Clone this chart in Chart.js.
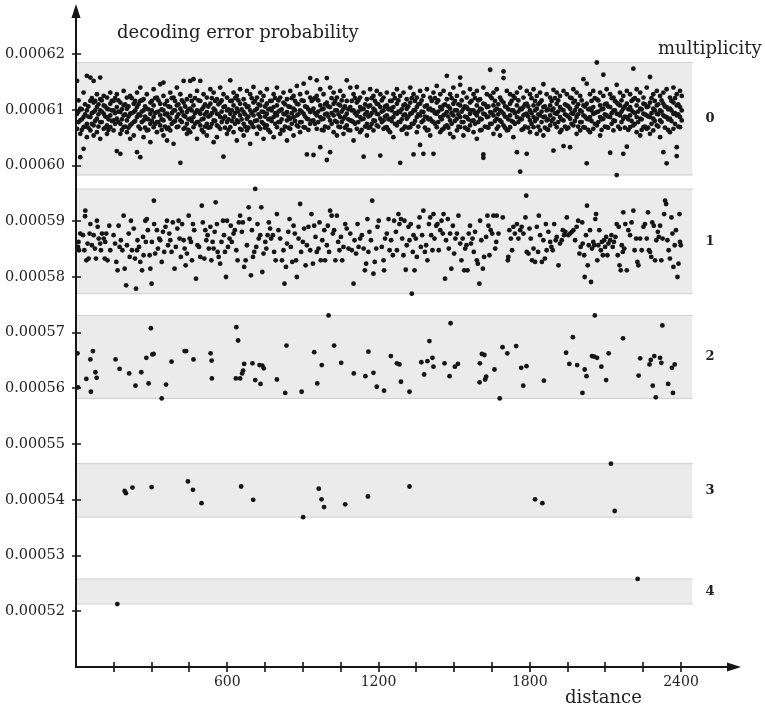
<!DOCTYPE html>
<html>
<head>
<meta charset="utf-8">
<script src="https://cdn.jsdelivr.net/npm/chart.js@4.4.0/dist/chart.umd.min.js"></script>
<style>
  body { margin: 0; background: #fff; }
  canvas { display: block; }
</style>
</head>
<body>
<canvas id="chart" width="765" height="708"></canvas>
<script>
// [distance, decoding error probability] for each multiplicity

const mult0 = [
  [4,6.093e-4],[4,6.066e-4],[4,6.152e-4],[17,6.081e-4],[17,6.102e-4],[17,6.057e-4],[17,6.015e-4],
  [30,6.087e-4],[30,6.069e-4],[30,6.131e-4],[30,6.030e-4],[43,6.161e-4],[43,6.099e-4],[43,6.075e-4],[43,6.051e-4],
  [57,6.158e-4],[57,6.116e-4],[57,6.087e-4],[57,6.063e-4],[70,6.152e-4],[70,6.113e-4],[70,6.096e-4],[70,6.072e-4],[70,6.054e-4],
  [83,6.128e-4],[83,6.105e-4],[83,6.084e-4],[83,6.060e-4],[96,6.158e-4],[96,6.119e-4],[96,6.099e-4],[96,6.078e-4],[96,6.048e-4],
  [110,6.125e-4],[110,6.108e-4],[110,6.093e-4],[110,6.066e-4],[123,6.122e-4],[123,6.102e-4],[123,6.087e-4],[123,6.072e-4],[123,6.057e-4],
  [136,6.131e-4],[136,6.111e-4],[136,6.090e-4],[136,6.069e-4],[149,6.116e-4],[149,6.099e-4],[149,6.081e-4],[149,6.063e-4],
  [162,6.128e-4],[162,6.105e-4],[162,6.084e-4],[162,6.026e-4],[176,6.113e-4],[176,6.096e-4],[176,6.075e-4],[176,6.057e-4],[176,6.021e-4],
  [189,6.134e-4],[189,6.108e-4],[189,6.090e-4],[189,6.069e-4],[202,6.122e-4],[202,6.102e-4],[202,6.081e-4],[202,6.060e-4],
  [215,6.125e-4],[215,6.093e-4],[215,6.072e-4],[215,6.048e-4],[229,6.111e-4],[229,6.096e-4],[229,6.078e-4],[229,6.054e-4],
  [242,6.131e-4],[242,6.105e-4],[242,6.087e-4],[242,6.024e-4],[255,6.140e-4],[255,6.116e-4],[255,6.090e-4],[255,6.066e-4],[255,6.015e-4],
  [268,6.119e-4],[268,6.099e-4],[268,6.081e-4],[268,6.051e-4],[281,6.128e-4],[281,6.102e-4],[281,6.084e-4],[281,6.063e-4],
  [295,6.113e-4],[295,6.093e-4],[295,6.075e-4],[295,6.042e-4],[308,6.137e-4],[308,6.108e-4],[308,6.087e-4],[308,6.069e-4],
  [321,6.122e-4],[321,6.096e-4],[321,6.078e-4],[321,6.060e-4],[334,6.146e-4],[334,6.111e-4],[334,6.090e-4],[334,6.072e-4],
  [347,6.149e-4],[347,6.125e-4],[347,6.099e-4],[347,6.081e-4],[347,6.054e-4],[361,6.116e-4],[361,6.093e-4],[361,6.066e-4],[361,6.045e-4],
  [374,6.131e-4],[374,6.105e-4],[374,6.084e-4],[374,6.063e-4],[387,6.122e-4],[387,6.099e-4],[387,6.078e-4],[387,6.039e-4],
  [400,6.140e-4],[400,6.108e-4],[400,6.087e-4],[400,6.069e-4],[414,6.128e-4],[414,6.102e-4],[414,6.081e-4],[414,6.005e-4],
  [427,6.152e-4],[427,6.113e-4],[427,6.090e-4],[427,6.066e-4],[440,6.119e-4],[440,6.096e-4],[440,6.075e-4],[440,6.057e-4],
  [453,6.152e-4],[453,6.125e-4],[453,6.102e-4],[453,6.084e-4],[453,6.060e-4],[466,6.155e-4],[466,6.108e-4],[466,6.087e-4],[466,6.069e-4],
  [480,6.134e-4],[480,6.099e-4],[480,6.078e-4],[480,6.048e-4],[493,6.152e-4],[493,6.116e-4],[493,6.093e-4],[493,6.072e-4],
  [506,6.128e-4],[506,6.105e-4],[506,6.084e-4],[506,6.060e-4],[519,6.122e-4],[519,6.096e-4],[519,6.075e-4],[519,6.054e-4],
  [533,6.137e-4],[533,6.111e-4],[533,6.090e-4],[533,6.069e-4],[546,6.131e-4],[546,6.102e-4],[546,6.081e-4],[546,6.042e-4],
  [559,6.119e-4],[559,6.093e-4],[559,6.072e-4],[559,6.051e-4],[572,6.140e-4],[572,6.113e-4],[572,6.087e-4],[572,6.066e-4],
  [585,6.128e-4],[585,6.105e-4],[585,6.084e-4],[585,6.016e-4],[599,6.122e-4],[599,6.099e-4],[599,6.078e-4],[599,6.057e-4],
  [612,6.153e-4],[612,6.116e-4],[612,6.093e-4],[612,6.069e-4],[625,6.131e-4],[625,6.108e-4],[625,6.087e-4],[625,6.060e-4],
  [638,6.125e-4],[638,6.102e-4],[638,6.081e-4],[638,6.045e-4],[651,6.137e-4],[651,6.111e-4],[651,6.090e-4],[651,6.066e-4],
  [665,6.119e-4],[665,6.096e-4],[665,6.075e-4],[665,6.054e-4],[678,6.134e-4],[678,6.105e-4],[678,6.084e-4],[678,6.063e-4],
  [691,6.128e-4],[691,6.099e-4],[691,6.078e-4],[691,6.039e-4],[704,6.141e-4],[704,6.113e-4],[704,6.090e-4],[704,6.069e-4],
  [718,6.122e-4],[718,6.102e-4],[718,6.081e-4],[718,6.057e-4],[731,6.131e-4],[731,6.108e-4],[731,6.087e-4],[731,6.066e-4],
  [744,6.125e-4],[744,6.096e-4],[744,6.075e-4],[744,6.048e-4],[757,6.137e-4],[757,6.111e-4],[757,6.093e-4],[757,6.072e-4],
  [770,6.116e-4],[770,6.102e-4],[770,6.084e-4],[770,6.060e-4],[784,6.128e-4],[784,6.105e-4],[784,6.087e-4],[784,6.051e-4],
  [797,6.140e-4],[797,6.108e-4],[797,6.090e-4],[797,6.069e-4],[810,6.122e-4],[810,6.099e-4],[810,6.078e-4],[810,6.057e-4],
  [823,6.131e-4],[823,6.113e-4],[823,6.093e-4],[823,6.063e-4],[837,6.119e-4],[837,6.096e-4],[837,6.081e-4],[837,6.045e-4],
  [850,6.134e-4],[850,6.105e-4],[850,6.084e-4],[850,6.066e-4],[863,6.125e-4],[863,6.102e-4],[863,6.087e-4],[863,6.054e-4],
  [876,6.143e-4],[876,6.111e-4],[876,6.090e-4],[876,6.072e-4],[889,6.128e-4],[889,6.099e-4],[889,6.078e-4],[889,6.060e-4],
  [903,6.147e-4],[903,6.116e-4],[903,6.093e-4],[903,6.069e-4],[916,6.131e-4],[916,6.105e-4],[916,6.084e-4],[916,6.020e-4],
  [929,6.157e-4],[929,6.122e-4],[929,6.096e-4],[929,6.075e-4],[942,6.119e-4],[942,6.102e-4],[942,6.081e-4],[942,6.019e-4],
  [955,6.153e-4],[955,6.125e-4],[955,6.090e-4],[955,6.066e-4],[969,6.137e-4],[969,6.108e-4],[969,6.087e-4],[969,6.033e-4],
  [982,6.128e-4],[982,6.102e-4],[982,6.084e-4],[982,6.063e-4],[995,6.157e-4],[995,6.113e-4],[995,6.093e-4],[995,6.010e-4],
  [1008,6.140e-4],[1008,6.105e-4],[1008,6.081e-4],[1008,6.024e-4],[1022,6.131e-4],[1022,6.111e-4],[1022,6.090e-4],[1022,6.060e-4],
  [1035,6.122e-4],[1035,6.099e-4],[1035,6.078e-4],[1035,6.054e-4],[1048,6.134e-4],[1048,6.108e-4],[1048,6.087e-4],[1048,6.069e-4],
  [1061,6.125e-4],[1061,6.102e-4],[1061,6.084e-4],[1061,6.057e-4],[1074,6.153e-4],[1074,6.116e-4],[1074,6.093e-4],[1074,6.072e-4],
  [1088,6.140e-4],[1088,6.105e-4],[1088,6.081e-4],[1088,6.063e-4],[1101,6.128e-4],[1101,6.099e-4],[1101,6.078e-4],[1101,6.045e-4],
  [1114,6.141e-4],[1114,6.113e-4],[1114,6.090e-4],[1114,6.066e-4],[1127,6.122e-4],[1127,6.105e-4],[1127,6.087e-4],[1127,6.060e-4],
  [1141,6.131e-4],[1141,6.102e-4],[1141,6.084e-4],[1141,6.016e-4],[1154,6.119e-4],[1154,6.096e-4],[1154,6.075e-4],[1154,6.054e-4],
  [1167,6.137e-4],[1167,6.108e-4],[1167,6.090e-4],[1167,6.069e-4],[1180,6.125e-4],[1180,6.102e-4],[1180,6.081e-4],[1180,6.063e-4],
  [1193,6.134e-4],[1193,6.111e-4],[1193,6.093e-4],[1193,6.072e-4],[1207,6.128e-4],[1207,6.105e-4],[1207,6.084e-4],[1207,6.018e-4],
  [1220,6.122e-4],[1220,6.099e-4],[1220,6.081e-4],[1220,6.066e-4],[1233,6.131e-4],[1233,6.108e-4],[1233,6.090e-4],[1233,6.069e-4],
  [1246,6.116e-4],[1246,6.102e-4],[1246,6.084e-4],[1246,6.060e-4],[1259,6.128e-4],[1259,6.105e-4],[1259,6.087e-4],[1259,6.051e-4],
  [1273,6.137e-4],[1273,6.111e-4],[1273,6.093e-4],[1273,6.072e-4],[1286,6.125e-4],[1286,6.096e-4],[1286,6.078e-4],[1286,6.005e-4],
  [1299,6.131e-4],[1299,6.108e-4],[1299,6.090e-4],[1299,6.066e-4],[1312,6.119e-4],[1312,6.102e-4],[1312,6.084e-4],[1312,6.057e-4],
  [1326,6.140e-4],[1326,6.113e-4],[1326,6.093e-4],[1326,6.069e-4],[1339,6.128e-4],[1339,6.099e-4],[1339,6.075e-4],[1339,6.020e-4],
  [1352,6.122e-4],[1352,6.105e-4],[1352,6.087e-4],[1352,6.060e-4],[1365,6.134e-4],[1365,6.111e-4],[1365,6.090e-4],[1365,6.037e-4],
  [1378,6.125e-4],[1378,6.096e-4],[1378,6.081e-4],[1378,6.021e-4],[1392,6.137e-4],[1392,6.108e-4],[1392,6.087e-4],[1392,6.063e-4],
  [1405,6.122e-4],[1405,6.102e-4],[1405,6.084e-4],[1405,6.054e-4],[1418,6.131e-4],[1418,6.099e-4],[1418,6.078e-4],[1418,6.021e-4],
  [1431,6.143e-4],[1431,6.113e-4],[1431,6.093e-4],[1431,6.069e-4],[1445,6.128e-4],[1445,6.105e-4],[1445,6.087e-4],[1445,6.060e-4],
  [1458,6.134e-4],[1458,6.108e-4],[1458,6.090e-4],[1458,6.066e-4],[1471,6.161e-4],[1471,6.119e-4],[1471,6.096e-4],[1471,6.072e-4],
  [1484,6.128e-4],[1484,6.102e-4],[1484,6.081e-4],[1484,6.057e-4],[1497,6.140e-4],[1497,6.111e-4],[1497,6.090e-4],[1497,6.051e-4],
  [1511,6.125e-4],[1511,6.099e-4],[1511,6.084e-4],[1511,6.063e-4],[1524,6.158e-4],[1524,6.145e-4],[1524,6.108e-4],[1524,6.087e-4],[1524,6.069e-4],
  [1537,6.131e-4],[1537,6.102e-4],[1537,6.078e-4],[1537,6.054e-4],[1550,6.122e-4],[1550,6.105e-4],[1550,6.087e-4],[1550,6.066e-4],
  [1563,6.137e-4],[1563,6.113e-4],[1563,6.093e-4],[1563,6.072e-4],[1577,6.128e-4],[1577,6.099e-4],[1577,6.081e-4],[1577,6.060e-4],
  [1590,6.134e-4],[1590,6.108e-4],[1590,6.090e-4],[1590,6.048e-4],[1603,6.119e-4],[1603,6.102e-4],[1603,6.084e-4],[1603,6.063e-4],
  [1616,6.140e-4],[1616,6.111e-4],[1616,6.093e-4],[1616,6.020e-4],[1616,6.014e-4],[1630,6.128e-4],[1630,6.105e-4],[1630,6.087e-4],[1630,6.069e-4],
  [1643,6.172e-4],[1643,6.125e-4],[1643,6.096e-4],[1643,6.075e-4],[1656,6.131e-4],[1656,6.108e-4],[1656,6.090e-4],[1656,6.057e-4],
  [1669,6.137e-4],[1669,6.102e-4],[1669,6.084e-4],[1669,6.066e-4],[1682,6.122e-4],[1682,6.099e-4],[1682,6.081e-4],[1682,6.054e-4],
  [1696,6.169e-4],[1696,6.157e-4],[1696,6.113e-4],[1696,6.093e-4],[1696,6.072e-4],[1709,6.134e-4],[1709,6.105e-4],[1709,6.087e-4],[1709,6.063e-4],
  [1722,6.128e-4],[1722,6.111e-4],[1722,6.090e-4],[1722,6.069e-4],[1735,6.125e-4],[1735,6.099e-4],[1735,6.078e-4],[1735,6.051e-4],
  [1749,6.131e-4],[1749,6.108e-4],[1749,6.087e-4],[1749,6.024e-4],[1762,6.140e-4],[1762,6.102e-4],[1762,6.084e-4],[1762,5.989e-4],
  [1775,6.122e-4],[1775,6.105e-4],[1775,6.090e-4],[1775,6.066e-4],[1788,6.134e-4],[1788,6.111e-4],[1788,6.093e-4],[1788,6.021e-4],
  [1801,6.128e-4],[1801,6.099e-4],[1801,6.081e-4],[1801,6.060e-4],[1815,6.137e-4],[1815,6.108e-4],[1815,6.087e-4],[1815,6.069e-4],
  [1828,6.125e-4],[1828,6.102e-4],[1828,6.084e-4],[1828,6.057e-4],[1841,6.131e-4],[1841,6.113e-4],[1841,6.090e-4],[1841,6.063e-4],
  [1854,6.146e-4],[1854,6.105e-4],[1854,6.087e-4],[1854,6.054e-4],[1867,6.128e-4],[1867,6.099e-4],[1867,6.081e-4],[1867,6.066e-4],
  [1881,6.122e-4],[1881,6.108e-4],[1881,6.090e-4],[1881,6.072e-4],[1894,6.136e-4],[1894,6.102e-4],[1894,6.084e-4],[1894,6.027e-4],
  [1907,6.131e-4],[1907,6.111e-4],[1907,6.093e-4],[1907,6.069e-4],[1920,6.125e-4],[1920,6.105e-4],[1920,6.087e-4],[1920,6.060e-4],
  [1934,6.134e-4],[1934,6.099e-4],[1934,6.081e-4],[1934,6.035e-4],[1947,6.128e-4],[1947,6.108e-4],[1947,6.090e-4],[1947,6.066e-4],
  [1960,6.122e-4],[1960,6.102e-4],[1960,6.084e-4],[1960,6.033e-4],[1973,6.137e-4],[1973,6.113e-4],[1973,6.093e-4],[1973,6.072e-4],
  [1986,6.131e-4],[1986,6.105e-4],[1986,6.087e-4],[1986,6.057e-4],[2000,6.125e-4],[2000,6.099e-4],[2000,6.078e-4],[2000,6.063e-4],
  [2013,6.155e-4],[2013,6.108e-4],[2013,6.090e-4],[2013,6.069e-4],[2026,6.147e-4],[2026,6.111e-4],[2026,6.084e-4],[2026,6.004e-4],
  [2039,6.128e-4],[2039,6.102e-4],[2039,6.087e-4],[2039,6.060e-4],[2052,6.134e-4],[2052,6.105e-4],[2052,6.093e-4],[2052,6.066e-4],
  [2066,6.185e-4],[2066,6.119e-4],[2066,6.096e-4],[2066,6.072e-4],[2079,6.131e-4],[2079,6.108e-4],[2079,6.087e-4],[2079,6.054e-4],
  [2092,6.163e-4],[2092,6.125e-4],[2092,6.102e-4],[2092,6.084e-4],[2105,6.137e-4],[2105,6.111e-4],[2105,6.090e-4],[2105,6.069e-4],
  [2119,6.128e-4],[2119,6.105e-4],[2119,6.087e-4],[2119,6.023e-4],[2132,6.122e-4],[2132,6.099e-4],[2132,6.081e-4],[2132,6.063e-4],
  [2145,6.145e-4],[2145,6.113e-4],[2145,6.093e-4],[2145,5.983e-4],[2158,6.131e-4],[2158,6.108e-4],[2158,6.090e-4],[2158,6.066e-4],
  [2171,6.125e-4],[2171,6.102e-4],[2171,6.084e-4],[2171,6.021e-4],[2185,6.134e-4],[2185,6.111e-4],[2185,6.087e-4],[2185,6.034e-4],
  [2198,6.128e-4],[2198,6.105e-4],[2198,6.090e-4],[2198,6.069e-4],[2211,6.174e-4],[2211,6.119e-4],[2211,6.096e-4],[2211,6.072e-4],
  [2224,6.137e-4],[2224,6.108e-4],[2224,6.087e-4],[2224,6.060e-4],[2238,6.131e-4],[2238,6.102e-4],[2238,6.084e-4],[2238,6.054e-4],
  [2251,6.122e-4],[2251,6.111e-4],[2251,6.093e-4],[2251,6.069e-4],[2264,6.140e-4],[2264,6.105e-4],[2264,6.090e-4],[2264,6.066e-4],
  [2277,6.159e-4],[2277,6.113e-4],[2277,6.087e-4],[2277,6.057e-4],[2290,6.128e-4],[2290,6.102e-4],[2290,6.084e-4],[2290,6.063e-4],
  [2304,6.134e-4],[2304,6.108e-4],[2304,6.093e-4],[2304,6.072e-4],[2317,6.125e-4],[2317,6.099e-4],[2317,6.081e-4],[2317,6.051e-4],
  [2330,6.131e-4],[2330,6.111e-4],[2330,6.090e-4],[2330,6.024e-4],[2343,6.137e-4],[2343,6.105e-4],[2343,6.087e-4],[2343,6.004e-4],
  [2356,6.122e-4],[2356,6.102e-4],[2356,6.084e-4],[2356,6.060e-4],[2370,6.140e-4],[2370,6.113e-4],[2370,6.093e-4],[2370,6.066e-4],
  [2383,6.128e-4],[2383,6.108e-4],[2383,6.090e-4],[2383,6.033e-4],[2383,6.017e-4],[2396,6.134e-4],[2396,6.105e-4],[2396,6.087e-4],[2396,6.069e-4],
  [2403,6.125e-4],[2403,6.099e-4],[2403,6.081e-4],
  // dense core of the cloud
  [10,6.097e-4],[10,6.078e-4],[10,6.117e-4],[23,6.101e-4],[23,6.083e-4],[23,6.064e-4],[36,6.092e-4],[36,6.070e-4],[36,6.110e-4],
  [49,6.088e-4],[49,6.106e-4],[49,6.068e-4],[63,6.094e-4],[63,6.075e-4],[63,6.121e-4],[76,6.099e-4],[76,6.116e-4],[76,6.080e-4],
  [89,6.092e-4],[89,6.070e-4],[89,6.110e-4],[102,6.097e-4],[102,6.078e-4],[102,6.117e-4],[116,6.088e-4],[116,6.106e-4],[116,6.068e-4],
  [129,6.101e-4],[129,6.083e-4],[129,6.064e-4],[142,6.099e-4],[142,6.116e-4],[142,6.080e-4],[155,6.094e-4],[155,6.075e-4],[155,6.121e-4],
  [168,6.097e-4],[168,6.078e-4],[168,6.117e-4],[182,6.101e-4],[182,6.083e-4],[182,6.064e-4],[195,6.092e-4],[195,6.070e-4],[195,6.110e-4],
  [208,6.088e-4],[208,6.106e-4],[208,6.068e-4],[221,6.094e-4],[221,6.075e-4],[221,6.121e-4],[235,6.099e-4],[235,6.116e-4],[235,6.080e-4],
  [248,6.092e-4],[248,6.070e-4],[248,6.110e-4],[261,6.097e-4],[261,6.078e-4],[261,6.117e-4],[274,6.088e-4],[274,6.106e-4],[274,6.068e-4],
  [287,6.101e-4],[287,6.083e-4],[287,6.064e-4],[301,6.099e-4],[301,6.116e-4],[301,6.080e-4],[314,6.094e-4],[314,6.075e-4],[314,6.121e-4],
  [327,6.097e-4],[327,6.078e-4],[327,6.117e-4],[340,6.101e-4],[340,6.083e-4],[340,6.064e-4],[353,6.092e-4],[353,6.070e-4],[353,6.110e-4],
  [367,6.088e-4],[367,6.106e-4],[367,6.068e-4],[380,6.094e-4],[380,6.075e-4],[380,6.121e-4],[393,6.099e-4],[393,6.116e-4],[393,6.080e-4],
  [406,6.092e-4],[406,6.070e-4],[406,6.110e-4],[420,6.097e-4],[420,6.078e-4],[420,6.117e-4],[433,6.088e-4],[433,6.106e-4],[433,6.068e-4],
  [446,6.101e-4],[446,6.083e-4],[446,6.064e-4],[459,6.099e-4],[459,6.116e-4],[459,6.080e-4],[472,6.094e-4],[472,6.075e-4],[472,6.121e-4],
  [486,6.097e-4],[486,6.078e-4],[486,6.117e-4],[499,6.101e-4],[499,6.083e-4],[499,6.064e-4],[512,6.092e-4],[512,6.070e-4],[512,6.110e-4],
  [525,6.088e-4],[525,6.106e-4],[525,6.068e-4],[539,6.094e-4],[539,6.075e-4],[539,6.121e-4],[552,6.099e-4],[552,6.116e-4],[552,6.080e-4],
  [565,6.092e-4],[565,6.070e-4],[565,6.110e-4],[578,6.097e-4],[578,6.078e-4],[578,6.117e-4],[591,6.088e-4],[591,6.106e-4],[591,6.068e-4],
  [605,6.101e-4],[605,6.083e-4],[605,6.064e-4],[618,6.099e-4],[618,6.116e-4],[618,6.080e-4],[631,6.094e-4],[631,6.075e-4],[631,6.121e-4],
  [644,6.097e-4],[644,6.078e-4],[644,6.117e-4],[657,6.101e-4],[657,6.083e-4],[657,6.064e-4],[671,6.092e-4],[671,6.070e-4],[671,6.110e-4],
  [684,6.088e-4],[684,6.106e-4],[684,6.068e-4],[697,6.094e-4],[697,6.075e-4],[697,6.121e-4],[710,6.099e-4],[710,6.116e-4],[710,6.080e-4],
  [724,6.092e-4],[724,6.070e-4],[724,6.110e-4],[737,6.097e-4],[737,6.078e-4],[737,6.117e-4],[750,6.088e-4],[750,6.106e-4],[750,6.068e-4],
  [763,6.101e-4],[763,6.083e-4],[763,6.064e-4],[776,6.099e-4],[776,6.116e-4],[776,6.080e-4],[790,6.094e-4],[790,6.075e-4],[790,6.121e-4],
  [803,6.097e-4],[803,6.078e-4],[803,6.117e-4],[816,6.101e-4],[816,6.083e-4],[816,6.064e-4],[829,6.092e-4],[829,6.070e-4],[829,6.110e-4],
  [843,6.088e-4],[843,6.106e-4],[843,6.068e-4],[856,6.094e-4],[856,6.075e-4],[856,6.121e-4],[869,6.099e-4],[869,6.116e-4],[869,6.080e-4],
  [882,6.092e-4],[882,6.070e-4],[882,6.110e-4],[895,6.097e-4],[895,6.078e-4],[895,6.117e-4],[909,6.088e-4],[909,6.106e-4],[909,6.068e-4],
  [922,6.101e-4],[922,6.083e-4],[922,6.064e-4],[935,6.099e-4],[935,6.116e-4],[935,6.080e-4],[948,6.094e-4],[948,6.075e-4],[948,6.121e-4],
  [961,6.097e-4],[961,6.078e-4],[961,6.117e-4],[975,6.101e-4],[975,6.083e-4],[975,6.064e-4],[988,6.092e-4],[988,6.070e-4],[988,6.110e-4],
  [1001,6.088e-4],[1001,6.106e-4],[1001,6.068e-4],[1014,6.094e-4],[1014,6.075e-4],[1014,6.121e-4],[1028,6.099e-4],[1028,6.116e-4],[1028,6.080e-4],
  [1041,6.092e-4],[1041,6.070e-4],[1041,6.110e-4],[1054,6.097e-4],[1054,6.078e-4],[1054,6.117e-4],[1067,6.088e-4],[1067,6.106e-4],[1067,6.068e-4],
  [1080,6.101e-4],[1080,6.083e-4],[1080,6.064e-4],[1094,6.099e-4],[1094,6.116e-4],[1094,6.080e-4],[1107,6.094e-4],[1107,6.075e-4],[1107,6.121e-4],
  [1120,6.097e-4],[1120,6.078e-4],[1120,6.117e-4],[1133,6.101e-4],[1133,6.083e-4],[1133,6.064e-4],[1147,6.092e-4],[1147,6.070e-4],[1147,6.110e-4],
  [1160,6.088e-4],[1160,6.106e-4],[1160,6.068e-4],[1173,6.094e-4],[1173,6.075e-4],[1173,6.121e-4],[1186,6.099e-4],[1186,6.116e-4],[1186,6.080e-4],
  [1199,6.092e-4],[1199,6.070e-4],[1199,6.110e-4],[1213,6.097e-4],[1213,6.078e-4],[1213,6.117e-4],[1226,6.088e-4],[1226,6.106e-4],[1226,6.068e-4],
  [1239,6.101e-4],[1239,6.083e-4],[1239,6.064e-4],[1252,6.099e-4],[1252,6.116e-4],[1252,6.080e-4],[1265,6.094e-4],[1265,6.075e-4],[1265,6.121e-4],
  [1279,6.097e-4],[1279,6.078e-4],[1279,6.117e-4],[1292,6.101e-4],[1292,6.083e-4],[1292,6.064e-4],[1305,6.092e-4],[1305,6.070e-4],[1305,6.110e-4],
  [1318,6.088e-4],[1318,6.106e-4],[1318,6.068e-4],[1332,6.094e-4],[1332,6.075e-4],[1332,6.121e-4],[1345,6.099e-4],[1345,6.116e-4],[1345,6.080e-4],
  [1358,6.092e-4],[1358,6.070e-4],[1358,6.110e-4],[1371,6.097e-4],[1371,6.078e-4],[1371,6.117e-4],[1384,6.088e-4],[1384,6.106e-4],[1384,6.068e-4],
  [1398,6.101e-4],[1398,6.083e-4],[1398,6.064e-4],[1411,6.099e-4],[1411,6.116e-4],[1411,6.080e-4],[1424,6.094e-4],[1424,6.075e-4],[1424,6.121e-4],
  [1437,6.097e-4],[1437,6.078e-4],[1437,6.117e-4],[1451,6.101e-4],[1451,6.083e-4],[1451,6.064e-4],[1464,6.092e-4],[1464,6.070e-4],[1464,6.110e-4],
  [1477,6.088e-4],[1477,6.106e-4],[1477,6.068e-4],[1490,6.094e-4],[1490,6.075e-4],[1490,6.121e-4],[1503,6.099e-4],[1503,6.116e-4],[1503,6.080e-4],
  [1517,6.092e-4],[1517,6.070e-4],[1517,6.110e-4],[1530,6.097e-4],[1530,6.078e-4],[1530,6.117e-4],[1543,6.088e-4],[1543,6.106e-4],[1543,6.068e-4],
  [1556,6.101e-4],[1556,6.083e-4],[1556,6.064e-4],[1569,6.099e-4],[1569,6.116e-4],[1569,6.080e-4],[1583,6.094e-4],[1583,6.075e-4],[1583,6.121e-4],
  [1596,6.097e-4],[1596,6.078e-4],[1596,6.117e-4],[1609,6.101e-4],[1609,6.083e-4],[1609,6.064e-4],[1622,6.092e-4],[1622,6.070e-4],[1622,6.110e-4],
  [1636,6.088e-4],[1636,6.106e-4],[1636,6.068e-4],[1649,6.094e-4],[1649,6.075e-4],[1649,6.121e-4],[1662,6.099e-4],[1662,6.116e-4],[1662,6.080e-4],
  [1675,6.092e-4],[1675,6.070e-4],[1675,6.110e-4],[1688,6.097e-4],[1688,6.078e-4],[1688,6.117e-4],[1702,6.088e-4],[1702,6.106e-4],[1702,6.068e-4],
  [1715,6.101e-4],[1715,6.083e-4],[1715,6.064e-4],[1728,6.099e-4],[1728,6.116e-4],[1728,6.080e-4],[1741,6.094e-4],[1741,6.075e-4],[1741,6.121e-4],
  [1755,6.097e-4],[1755,6.078e-4],[1755,6.117e-4],[1768,6.101e-4],[1768,6.083e-4],[1768,6.064e-4],[1781,6.092e-4],[1781,6.070e-4],[1781,6.110e-4],
  [1794,6.088e-4],[1794,6.106e-4],[1794,6.068e-4],[1807,6.094e-4],[1807,6.075e-4],[1807,6.121e-4],[1821,6.099e-4],[1821,6.116e-4],[1821,6.080e-4],
  [1834,6.092e-4],[1834,6.070e-4],[1834,6.110e-4],[1847,6.097e-4],[1847,6.078e-4],[1847,6.117e-4],[1860,6.088e-4],[1860,6.106e-4],[1860,6.068e-4],
  [1873,6.101e-4],[1873,6.083e-4],[1873,6.064e-4],[1887,6.099e-4],[1887,6.116e-4],[1887,6.080e-4],[1900,6.094e-4],[1900,6.075e-4],[1900,6.121e-4],
  [1913,6.097e-4],[1913,6.078e-4],[1913,6.117e-4],[1926,6.101e-4],[1926,6.083e-4],[1926,6.064e-4],[1940,6.092e-4],[1940,6.070e-4],[1940,6.110e-4],
  [1953,6.088e-4],[1953,6.106e-4],[1953,6.068e-4],[1966,6.094e-4],[1966,6.075e-4],[1966,6.121e-4],[1979,6.099e-4],[1979,6.116e-4],[1979,6.080e-4],
  [1992,6.092e-4],[1992,6.070e-4],[1992,6.110e-4],[2006,6.097e-4],[2006,6.078e-4],[2006,6.117e-4],[2019,6.088e-4],[2019,6.106e-4],[2019,6.068e-4],
  [2032,6.101e-4],[2032,6.083e-4],[2032,6.064e-4],[2045,6.099e-4],[2045,6.116e-4],[2045,6.080e-4],[2058,6.094e-4],[2058,6.075e-4],[2058,6.121e-4],
  [2072,6.097e-4],[2072,6.078e-4],[2072,6.117e-4],[2085,6.101e-4],[2085,6.083e-4],[2085,6.064e-4],[2098,6.092e-4],[2098,6.070e-4],[2098,6.110e-4],
  [2111,6.088e-4],[2111,6.106e-4],[2111,6.068e-4],[2125,6.094e-4],[2125,6.075e-4],[2125,6.121e-4],[2138,6.099e-4],[2138,6.116e-4],[2138,6.080e-4],
  [2151,6.092e-4],[2151,6.070e-4],[2151,6.110e-4],[2164,6.097e-4],[2164,6.078e-4],[2164,6.117e-4],[2177,6.088e-4],[2177,6.106e-4],[2177,6.068e-4],
  [2191,6.101e-4],[2191,6.083e-4],[2191,6.064e-4],[2204,6.099e-4],[2204,6.116e-4],[2204,6.080e-4],[2217,6.094e-4],[2217,6.075e-4],[2217,6.121e-4],
  [2230,6.097e-4],[2230,6.078e-4],[2230,6.117e-4],[2244,6.101e-4],[2244,6.083e-4],[2244,6.064e-4],[2257,6.092e-4],[2257,6.070e-4],[2257,6.110e-4],
  [2270,6.088e-4],[2270,6.106e-4],[2270,6.068e-4],[2283,6.094e-4],[2283,6.075e-4],[2283,6.121e-4],[2296,6.099e-4],[2296,6.116e-4],[2296,6.080e-4],
  [2310,6.092e-4],[2310,6.070e-4],[2310,6.110e-4],[2323,6.097e-4],[2323,6.078e-4],[2323,6.117e-4],[2336,6.088e-4],[2336,6.106e-4],[2336,6.068e-4],
  [2349,6.101e-4],[2349,6.083e-4],[2349,6.064e-4],[2362,6.099e-4],[2362,6.116e-4],[2362,6.080e-4],[2376,6.094e-4],[2376,6.075e-4],[2376,6.121e-4],
  [2389,6.092e-4],[2389,6.070e-4],[2389,6.110e-4]
];

const mult1 = [
  [10,5.863e-4],[8,5.854e-4],[12,5.848e-4],[17,5.878e-4],[28,5.875e-4],[33,5.848e-4],[37,5.919e-4],[36,5.909e-4],[41,5.830e-4],
  [46,5.860e-4],[50,5.833e-4],[54,5.878e-4],[57,5.895e-4],[63,5.857e-4],[70,5.875e-4],[75,5.851e-4],[79,5.833e-4],[83,5.901e-4],
  [86,5.890e-4],[90,5.869e-4],[96,5.860e-4],[99,5.848e-4],[103,5.878e-4],[110,5.869e-4],[114,5.833e-4],[116,5.863e-4],[120,5.878e-4],
  [125,5.830e-4],[132,5.892e-4],[136,5.848e-4],[149,5.875e-4],[155,5.860e-4],[160,5.827e-4],[165,5.812e-4],[169,5.892e-4],[173,5.854e-4],
  [178,5.866e-4],[184,5.848e-4],[189,5.910e-4],[193,5.815e-4],[199,5.785e-4],[202,5.857e-4],[209,5.878e-4],[213,5.836e-4],[218,5.901e-4],
  [222,5.848e-4],[229,5.887e-4],[234,5.833e-4],[238,5.779e-4],[242,5.848e-4],[244,5.866e-4],[250,5.854e-4],[255,5.827e-4],[262,5.812e-4],
  [266,5.872e-4],[268,5.839e-4],[275,5.901e-4],[277,5.863e-4],[281,5.904e-4],[285,5.884e-4],[292,5.839e-4],[295,5.815e-4],[300,5.788e-4],
  [301,5.863e-4],[309,5.937e-4],[310,5.895e-4],[314,5.842e-4],[321,5.884e-4],[325,5.851e-4],[330,5.869e-4],[334,5.866e-4],[340,5.827e-4],
  [345,5.881e-4],[350,5.845e-4],[355,5.890e-4],[361,5.901e-4],[365,5.857e-4],[370,5.878e-4],[374,5.866e-4],[379,5.845e-4],[384,5.898e-4],
  [391,5.815e-4],[396,5.854e-4],[402,5.887e-4],[407,5.901e-4],[411,5.869e-4],[416,5.836e-4],[421,5.895e-4],[427,5.866e-4],[431,5.851e-4],
  [435,5.821e-4],[440,5.842e-4],[447,5.910e-4],[451,5.869e-4],[456,5.863e-4],[460,5.830e-4],[464,5.895e-4],[469,5.884e-4],[476,5.797e-4],
  [482,5.857e-4],[488,5.854e-4],[493,5.836e-4],[499,5.928e-4],[503,5.898e-4],[509,5.833e-4],[513,5.884e-4],[517,5.866e-4],[522,5.875e-4],
  [527,5.851e-4],[533,5.890e-4],[537,5.830e-4],[542,5.863e-4],[546,5.851e-4],[550,5.881e-4],[554,5.934e-4],[559,5.895e-4],[562,5.845e-4],
  [566,5.836e-4],[572,5.824e-4],[577,5.863e-4],[583,5.901e-4],[587,5.875e-4],[591,5.845e-4],[595,5.800e-4],[599,5.901e-4],[603,5.854e-4],
  [609,5.869e-4],[614,5.892e-4],[618,5.863e-4],[625,5.878e-4],[630,5.884e-4],[636,5.848e-4],[641,5.830e-4],[646,5.898e-4],[651,5.910e-4],
  [658,5.881e-4],[662,5.898e-4],[667,5.818e-4],[673,5.830e-4],[678,5.857e-4],[685,5.925e-4],[688,5.904e-4],[694,5.803e-4],[698,5.884e-4],
  [702,5.836e-4],[707,5.845e-4],[711,5.958e-4],[715,5.854e-4],[720,5.895e-4],[725,5.869e-4],[731,5.875e-4],[735,5.925e-4],[739,5.809e-4],
  [744,5.842e-4],[751,5.863e-4],[755,5.851e-4],[760,5.875e-4],[765,5.898e-4],[770,5.887e-4],[774,5.869e-4],[781,5.875e-4],[786,5.845e-4],
  [792,5.830e-4],[797,5.913e-4],[803,5.884e-4],[810,5.869e-4],[817,5.830e-4],[823,5.848e-4],[827,5.788e-4],[833,5.818e-4],[837,5.860e-4],
  [842,5.881e-4],[847,5.904e-4],[852,5.854e-4],[858,5.827e-4],[863,5.892e-4],[868,5.878e-4],[873,5.830e-4],[876,5.800e-4],[883,5.869e-4],
  [889,5.931e-4],[893,5.845e-4],[900,5.863e-4],[905,5.887e-4],[911,5.821e-4],[916,5.857e-4],[922,5.890e-4],[929,5.848e-4],[934,5.913e-4],
  [940,5.824e-4],[945,5.892e-4],[950,5.872e-4],[955,5.845e-4],[962,5.851e-4],[966,5.898e-4],[971,5.830e-4],[977,5.866e-4],[985,5.884e-4],
  [988,5.830e-4],[995,5.857e-4],[999,5.892e-4],[1004,5.845e-4],[1008,5.919e-4],[1014,5.910e-4],[1019,5.878e-4],[1024,5.884e-4],[1029,5.830e-4],
  [1035,5.910e-4],[1040,5.863e-4],[1045,5.848e-4],[1051,5.872e-4],[1056,5.830e-4],[1061,5.854e-4],[1068,5.895e-4],[1074,5.887e-4],[1081,5.851e-4],
  [1088,5.878e-4],[1094,5.848e-4],[1101,5.788e-4],[1105,5.866e-4],[1111,5.842e-4],[1117,5.895e-4],[1121,5.854e-4],[1127,5.869e-4],[1134,5.875e-4],
  [1141,5.851e-4],[1146,5.812e-4],[1151,5.824e-4],[1156,5.904e-4],[1160,5.845e-4],[1164,5.881e-4],[1170,5.866e-4],[1175,5.937e-4],[1180,5.806e-4],
  [1185,5.827e-4],[1191,5.851e-4],[1196,5.890e-4],[1201,5.901e-4],
  [1213,5.854e-4],[1220,5.830e-4],[1226,5.869e-4],[1222,5.812e-4],[1233,5.878e-4],[1240,5.904e-4],[1244,5.848e-4],[1250,5.866e-4],[1257,5.839e-4],
  [1262,5.901e-4],[1269,5.881e-4],[1273,5.848e-4],[1279,5.913e-4],[1283,5.895e-4],[1289,5.904e-4],[1294,5.869e-4],[1299,5.839e-4],[1303,5.901e-4],
  [1308,5.813e-4],[1312,5.857e-4],[1319,5.890e-4],[1323,5.866e-4],[1328,5.895e-4],[1332,5.770e-4],[1336,5.845e-4],[1339,5.875e-4],[1343,5.812e-4],
  [1348,5.869e-4],[1352,5.836e-4],[1359,5.890e-4],[1363,5.907e-4],[1368,5.854e-4],[1373,5.875e-4],[1378,5.919e-4],[1384,5.845e-4],[1389,5.857e-4],
  [1394,5.830e-4],[1400,5.895e-4],[1405,5.907e-4],[1409,5.875e-4],[1414,5.848e-4],[1418,5.913e-4],[1422,5.869e-4],[1429,5.892e-4],[1434,5.895e-4],
  [1439,5.848e-4],[1445,5.884e-4],[1450,5.901e-4],[1455,5.878e-4],[1458,5.913e-4],[1464,5.797e-4],[1468,5.866e-4],[1475,5.904e-4],[1479,5.851e-4],
  [1484,5.878e-4],[1489,5.815e-4],[1495,5.892e-4],[1500,5.842e-4],[1505,5.869e-4],[1511,5.878e-4],[1517,5.910e-4],[1524,5.860e-4],[1529,5.830e-4],
  [1534,5.869e-4],[1540,5.812e-4],[1544,5.851e-4],[1549,5.857e-4],[1553,5.812e-4],[1558,5.878e-4],[1563,5.892e-4],[1567,5.860e-4],[1573,5.869e-4],
  [1578,5.845e-4],[1583,5.881e-4],[1590,5.830e-4],[1594,5.824e-4],[1600,5.788e-4],[1603,5.901e-4],[1608,5.866e-4],[1614,5.815e-4],[1619,5.836e-4],
  [1627,5.872e-4],[1632,5.910e-4],[1636,5.892e-4],[1640,5.839e-4],[1645,5.884e-4],[1651,5.878e-4],[1656,5.910e-4],[1663,5.851e-4],[1667,5.863e-4],
  [1669,5.910e-4],[1676,5.878e-4],[1693,5.907e-4],[1713,5.830e-4],[1715,5.836e-4],[1719,5.884e-4],[1725,5.869e-4],[1730,5.848e-4],[1735,5.890e-4],
  [1741,5.878e-4],[1749,5.895e-4],[1755,5.869e-4],[1762,5.884e-4],[1768,5.890e-4],[1775,5.878e-4],[1783,5.907e-4],[1786,5.946e-4],[1788,5.845e-4],
  [1795,5.842e-4],[1799,5.887e-4],[1804,5.869e-4],[1809,5.830e-4],[1815,5.851e-4],[1821,5.827e-4],[1828,5.890e-4],[1833,5.845e-4],[1836,5.910e-4],
  [1841,5.875e-4],[1848,5.827e-4],[1854,5.866e-4],[1860,5.833e-4],[1864,5.895e-4],[1867,5.848e-4],[1874,5.881e-4],[1881,5.863e-4],[1886,5.854e-4],
  [1891,5.848e-4],[1897,5.895e-4],[1903,5.866e-4],[1907,5.872e-4],[1914,5.821e-4],[1920,5.860e-4],[1927,5.866e-4],[1931,5.884e-4],[1936,5.875e-4],
  [1941,5.881e-4],[1947,5.907e-4],[1953,5.875e-4],[1960,5.878e-4],[1967,5.881e-4],[1973,5.884e-4],[1980,5.866e-4],[1986,5.890e-4],[1992,5.901e-4],
  [1997,5.842e-4],[2002,5.854e-4],[2008,5.898e-4],[2010,5.860e-4],[2016,5.839e-4],[2018,5.800e-4],[2023,5.875e-4],[2027,5.928e-4],[2030,5.821e-4],
  [2034,5.857e-4],[2039,5.884e-4],[2043,5.791e-4],[2047,5.851e-4],[2052,5.863e-4],[2056,5.857e-4],[2060,5.904e-4],[2063,5.913e-4],[2068,5.830e-4],
  [2072,5.857e-4],[2076,5.884e-4],[2082,5.848e-4],[2086,5.863e-4],[2090,5.839e-4],[2095,5.866e-4],[2099,5.854e-4],[2103,5.872e-4],[2108,5.839e-4],
  [2112,5.860e-4],[2119,5.866e-4],[2124,5.875e-4],[2129,5.854e-4],[2134,5.863e-4],[2140,5.872e-4],[2145,5.895e-4],[2149,5.839e-4],[2153,5.890e-4],
  [2156,5.821e-4],[2161,5.812e-4],[2165,5.857e-4],[2169,5.845e-4],[2171,5.916e-4],[2175,5.851e-4],[2179,5.895e-4],[2185,5.812e-4],[2191,5.884e-4],
  [2198,5.875e-4],[2204,5.898e-4],[2211,5.919e-4],[2216,5.848e-4],[2222,5.869e-4],[2227,5.827e-4],[2231,5.821e-4],[2238,5.869e-4],[2244,5.848e-4],
  [2251,5.890e-4],[2257,5.895e-4],[2264,5.869e-4],[2269,5.916e-4],[2273,5.848e-4],[2277,5.845e-4],[2282,5.836e-4],[2286,5.898e-4],[2292,5.892e-4],
  [2297,5.830e-4],[2302,5.866e-4],[2308,5.881e-4],[2312,5.872e-4],[2317,5.892e-4],[2322,5.830e-4],[2327,5.869e-4],[2333,5.913e-4],[2337,5.937e-4],
  [2341,5.931e-4],[2346,5.866e-4],[2351,5.848e-4],[2356,5.833e-4],[2362,5.907e-4],[2366,5.878e-4],[2370,5.818e-4],[2375,5.857e-4],[2380,5.884e-4],
  [2386,5.800e-4],[2390,5.824e-4],[2394,5.913e-4],[2396,5.863e-4],[2399,5.857e-4]
];

const mult2 = [
  [6,5.663e-4],[8,5.602e-4],[41,5.617e-4],[59,5.594e-4],[57,5.652e-4],[67,5.667e-4],[77,5.629e-4],[82,5.619e-4],[157,5.652e-4],
  [173,5.635e-4],[211,5.627e-4],[236,5.605e-4],[259,5.629e-4],[279,5.655e-4],[288,5.609e-4],[297,5.708e-4],[303,5.661e-4],[308,5.662e-4],
  [340,5.582e-4],[357,5.607e-4],[379,5.648e-4],[431,5.667e-4],[437,5.667e-4],[466,5.652e-4],[534,5.663e-4],[538,5.650e-4],[539,5.618e-4],
  [636,5.710e-4],[643,5.686e-4],[634,5.618e-4],[651,5.618e-4],[659,5.627e-4],[663,5.632e-4],[667,5.644e-4],[700,5.645e-4],[711,5.615e-4],
  [732,5.608e-4],[728,5.642e-4],[739,5.641e-4],[745,5.636e-4],[797,5.616e-4],[830,5.592e-4],[835,5.677e-4],[895,5.594e-4],[945,5.665e-4],
  [957,5.609e-4],[975,5.642e-4],[1002,5.731e-4],[1024,5.677e-4],[1052,5.646e-4],[1102,5.627e-4],[1148,5.622e-4],[1160,5.666e-4],[1180,5.628e-4],
  [1193,5.603e-4],[1222,5.596e-4],[1249,5.658e-4],[1273,5.645e-4],[1283,5.643e-4],[1289,5.612e-4],[1323,5.594e-4],[1370,5.647e-4],[1381,5.625e-4],
  [1394,5.649e-4],[1402,5.685e-4],[1414,5.655e-4],[1418,5.639e-4],[1462,5.645e-4],[1482,5.622e-4],[1486,5.717e-4],[1503,5.639e-4],[1515,5.644e-4],
  [1602,5.645e-4],[1601,5.611e-4],[1610,5.662e-4],[1620,5.660e-4],[1623,5.616e-4],[1627,5.621e-4],[1660,5.634e-4],[1681,5.582e-4],[1692,5.674e-4],
  [1711,5.663e-4],[1746,5.676e-4],[1766,5.637e-4],[1774,5.605e-4],[1787,5.640e-4],[1856,5.614e-4],[1944,5.664e-4],[1957,5.644e-4],[1971,5.692e-4],
  [1988,5.642e-4],[2009,5.592e-4],[2018,5.634e-4],[2025,5.622e-4],[2047,5.658e-4],[2056,5.657e-4],[2067,5.655e-4],[2084,5.639e-4],[2103,5.615e-4],
  [2113,5.663e-4],[2170,5.690e-4],[2058,5.731e-4],[2232,5.623e-4],[2238,5.654e-4],[2275,5.643e-4],[2280,5.651e-4],[2288,5.605e-4],[2294,5.658e-4],
  [2300,5.584e-4],[2317,5.655e-4],[2322,5.646e-4],[2326,5.713e-4],[2349,5.608e-4],[2364,5.637e-4],[2368,5.592e-4],[2375,5.643e-4]
];

const mult3 = [
  [193,5.416e-4],[198,5.412e-4],[224,5.422e-4],[300,5.423e-4],[444,5.433e-4],[464,5.418e-4],[498,5.394e-4],[655,5.424e-4],
  [703,5.400e-4],[901,5.369e-4],[963,5.420e-4],[974,5.401e-4],[984,5.387e-4],[1068,5.392e-4],[1158,5.406e-4],[1323,5.424e-4],
  [1821,5.401e-4],[1850,5.394e-4],[2122,5.465e-4],[2137,5.380e-4]
];

const mult4 = [[164,5.213e-4],[2228,5.258e-4]];

const multiplicities = ['0', '1', '2', '3', '4'];
const bandSpan = [0, 2446];
const xTicks = [150,300,450,600,750,900,1050,1200,1350,1500,1650,1800,1950,2100,2250,2400];
const xLabels = [600, 1200, 1800, 2400];
const yTicks = [5.2e-4,5.3e-4,5.4e-4,5.5e-4,5.6e-4,5.7e-4,5.8e-4,5.9e-4,6.0e-4,6.1e-4,6.2e-4];

const FONT = '"DejaVu Serif", serif';
const INK = '#161616';

const series = [mult0, mult1, mult2, mult3, mult4];
const datasets = [];
series.forEach((s) => {
    const ys = s.map(p => p[1]);
    const lo = Math.min(...ys), hi = Math.max(...ys);
    datasets.push({
        type: 'line', order: 5,
        data: [{x: bandSpan[0], y: lo}, {x: bandSpan[1], y: lo}],
        borderColor: '#d0d0d0', borderWidth: 1, pointRadius: 0, fill: false
    });
    datasets.push({
        type: 'line', order: 5,
        data: [{x: bandSpan[0], y: hi}, {x: bandSpan[1], y: hi}],
        borderColor: '#d0d0d0', borderWidth: 1, pointRadius: 0,
        fill: '-1', backgroundColor: '#ebebeb'
    });
});
series.forEach((s) => {
    datasets.push({
        type: 'scatter', order: 1,
        data: s.map(p => ({x: p[0], y: p[1]})),
        pointRadius: 2.4, pointBackgroundColor: INK, pointBorderWidth: 0
    });
});

function bandMid(s) {
    const ys = s.map(p => p[1]);
    return (Math.min(...ys) + Math.max(...ys)) / 2;
}

const decor = {
    id: 'decor',
    afterDraw(chart) {
        const {ctx, chartArea: a, scales: {x, y}} = chart;
        ctx.save();
        ctx.strokeStyle = INK;
        ctx.fillStyle = INK;

        // axes with arrow heads
        ctx.lineWidth = 2;
        ctx.beginPath();
        ctx.moveTo(a.left, a.top + 10);
        ctx.lineTo(a.left, a.bottom);
        ctx.lineTo(a.right - 10, a.bottom);
        ctx.stroke();
        ctx.beginPath();
        ctx.moveTo(a.left, a.top);
        ctx.lineTo(a.left - 4.5, a.top + 14);
        ctx.lineTo(a.left + 4.5, a.top + 14);
        ctx.closePath();
        ctx.fill();
        ctx.beginPath();
        ctx.moveTo(a.right, a.bottom);
        ctx.lineTo(a.right - 14, a.bottom - 4.5);
        ctx.lineTo(a.right - 14, a.bottom + 4.5);
        ctx.closePath();
        ctx.fill();

        // tick marks crossing the axes
        ctx.lineWidth = 1.6;
        ctx.beginPath();
        xTicks.forEach(v => {
            const px = Math.round(x.getPixelForValue(v));
            ctx.moveTo(px, a.bottom - 5);
            ctx.lineTo(px, a.bottom + 5);
        });
        yTicks.forEach(v => {
            const py = Math.round(y.getPixelForValue(v));
            ctx.moveTo(a.left - 4, py);
            ctx.lineTo(a.left + 5, py);
        });
        ctx.stroke();

        // titles
        ctx.fillStyle = '#222';
        ctx.font = '18px ' + FONT;
        ctx.textBaseline = 'alphabetic';
        ctx.textAlign = 'left';
        ctx.fillText('decoding error probability', 117, 38);
        ctx.fillText('multiplicity', 658, 54);
        ctx.fillText('distance', 565, 703);

        // multiplicity labels beside the bands
        ctx.font = 'bold 13px ' + FONT;
        ctx.textAlign = 'center';
        ctx.textBaseline = 'middle';
        series.forEach((s, i) => {
            ctx.fillText(multiplicities[i], 710, y.getPixelForValue(bandMid(s)));
        });
        ctx.restore();
    }
};

new Chart(document.getElementById('chart'), {
    type: 'scatter',
    data: {datasets: datasets},
    options: {
        responsive: false,
        animation: false,
        events: [],
        layout: {padding: {top: 3, right: 24, left: 0, bottom: 0}},
        plugins: {legend: {display: false}, tooltip: {enabled: false}},
        scales: {
            x: {
                type: 'linear', min: 0, max: 2638,
                grid: {display: false, drawTicks: false},
                border: {display: false},
                afterFit(scale) {
                    scale.height = 41;
                    scale.paddingLeft = 0;
                    scale.paddingRight = 0;
                },
                ticks: {
                    stepSize: 150, autoSkip: false, maxRotation: 0, padding: 7,
                    color: '#222', font: {family: FONT, size: 14},
                    callback: (v) => xLabels.includes(v) ? String(v) : ''
                }
            },
            y: {
                type: 'linear', min: 0.00051, max: 0.000629,
                grid: {display: false, drawTicks: false},
                border: {display: false},
                afterFit(scale) {
                    scale.width = 76;
                    scale.paddingTop = 0;
                    scale.paddingBottom = 0;
                },
                afterBuildTicks(scale) { scale.ticks = yTicks.map(v => ({value: v})); },
                ticks: {
                    autoSkip: false, padding: 11,
                    color: '#222', font: {family: FONT, size: 14.5},
                    callback: (v) => v.toFixed(5)
                }
            }
        }
    },
    plugins: [decor]
});
</script>
</body>
</html>
